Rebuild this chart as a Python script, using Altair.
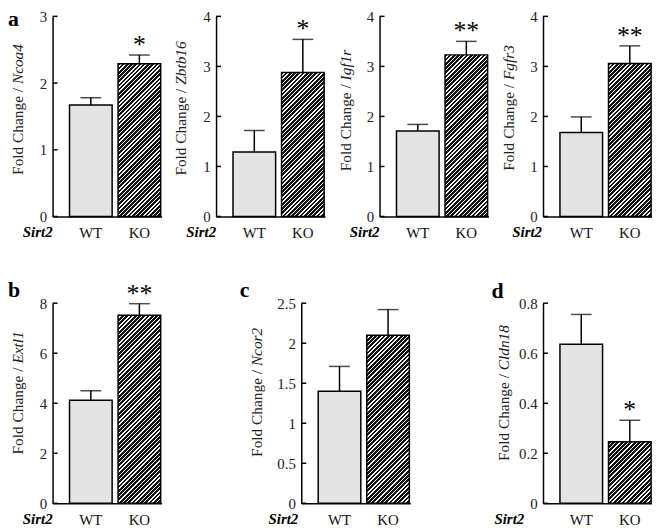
import altair as alt
import pandas as pd

# ---------------- data ----------------
genes = ["Ncoa4", "Zbtb16", "Igf1r", "Fgfr3", "Extl1", "Ncor2", "Cldn18"]
conditions = ["WT", "KO"]
wt_mean = [1.67, 1.29, 1.71, 1.68, 4.12, 1.40, 0.636]
wt_err_top = [1.78, 1.72, 1.84, 1.99, 4.50, 1.71, 0.755]
ko_mean = [2.29, 2.88, 3.23, 3.06, 7.52, 2.10, 0.246]
ko_err_top = [2.42, 3.54, 3.50, 3.41, 7.98, 2.42, 0.332]
ko_stars = ["*", "*", "**", "**", "**", "", "*"]
y_max = [3, 4, 4, 4, 8, 2.5, 0.8]
y_ticks = [
    [0, 1, 2, 3],
    [0, 1, 2, 3, 4],
    [0, 1, 2, 3, 4],
    [0, 1, 2, 3, 4],
    [0, 2, 4, 6, 8],
    [0, 0.5, 1, 1.5, 2, 2.5],
    [0, 0.2, 0.4, 0.6, 0.8],
]
panel_letters = ["a", "", "", "", "b", "c", "d"]
group_label = "Sirt2"
title_prefix = "Fold Change /"

# ---------------- style ----------------
FONT = "Liberation Serif"
W, H = 110, 202
BAND, GAP = 43, 6
STEP = BAND + GAP
PI = GAP / STEP
PO = (W / STEP - 2 + PI) / 2
WT_FILL = "#e4e4e4"
HATCH_DARK = "#111111"
HATCH_LIGHT = "#ffffff"
PERIOD = 4.3
DARK_FRAC = 0.64
TITLE_FS = 15.5
LABEL_FS = 15

# per-panel placement of annotations (relative to each plot area)
layout = [
    dict(tx=-30, tc=94, sx=0, lx=-45, ly=9.5),
    dict(tx=-30, tc=93, sx=0, lx=0, ly=0),
    dict(tx=-29, tc=95, sx=0, lx=0, ly=0),
    dict(tx=-29, tc=92.5, sx=-1, lx=0, ly=0),
    dict(tx=-30, tc=90.5, sx=0, lx=-45, ly=-6),
    dict(tx=-40, tc=90, sx=-3, lx=-62, ly=-6),
    dict(tx=-34, tc=92, sx=-19, lx=-52, ly=-5),
]

ROMAN = {"F": .556, "o": .5, "l": .278, "d": .5, " ": .25, "C": .667, "h": .5,
         "a": .444, "n": .5, "g": .5, "e": .444, "/": .278}
ITALIC = {"N": .667, "c": .444, "o": .5, "a": .5, "4": .5, "Z": .556, "b": .5,
          "t": .278, "1": .5, "6": .5, "I": .333, "g": .5, "f": .278, "r": .389,
          "F": .611, "3": .5, "E": .611, "x": .444, "l": .278, "2": .5, "d": .5,
          "n": .5, "8": .5}


def text_w(s, table):
    return sum(table.get(c, 0.5) for c in s) * TITLE_FS


def hatch(value, ymax):
    w = BAND
    h = max(value / ymax * H, 1)
    k = h / w
    dx = (1 + k) / (1 + k * k)
    dy = k * dx
    n = max(1, round((w + h) / PERIOD))
    stops = []
    for j in range(n):
        a = j / n
        b = (j + DARK_FRAC) / n
        c = (j + 1) / n
        stops += [
            alt.GradientStop(offset=a, color=HATCH_DARK),
            alt.GradientStop(offset=b, color=HATCH_DARK),
            alt.GradientStop(offset=b, color=HATCH_LIGHT),
            alt.GradientStop(offset=c, color=HATCH_LIGHT),
        ]
    return alt.LinearGradient(gradient="linear", stops=stops, x1=0, y1=0, x2=dx, y2=dy)


def const_text(txt, x, y, **kw):
    return alt.Chart(pd.DataFrame({"t": [txt]})).mark_text(font=FONT, **kw).encode(
        x=alt.value(x), y=alt.value(y), text="t:N")


def panel(i):
    lay = layout[i]
    df = pd.DataFrame({
        "cond": conditions,
        "mean": [wt_mean[i], ko_mean[i]],
        "top": [wt_err_top[i], ko_err_top[i]],
        "star": ["", ko_stars[i]],
    })
    xscale = alt.Scale(domain=conditions, paddingInner=PI, paddingOuter=PO, align=0.95)
    xaxis = alt.Axis(title=None, labelAngle=0, ticks=False, domainColor="black",
                     domainWidth=1.5, labelFont=FONT, labelFontSize=LABEL_FS,
                     labelColor="#111", labelPadding=9)
    yscale = alt.Scale(domain=[0, y_max[i]], nice=False, zero=True)
    yaxis = alt.Axis(title=None, values=y_ticks[i], ticks=False, grid=False,
                     domainColor="black", domainWidth=1.5, labelFont=FONT,
                     labelFontSize=LABEL_FS, labelColor="#222", labelPadding=6,
                     format="~g")
    X = alt.X("cond:N", scale=xscale, axis=xaxis)
    base = alt.Chart(df)

    wt = base.transform_filter(alt.datum.cond == "WT").mark_bar(
        fill=WT_FILL, stroke="black", strokeWidth=1.5).encode(
        x=X, y=alt.Y("mean:Q", scale=yscale, axis=yaxis))
    ko = base.transform_filter(alt.datum.cond == "KO").mark_bar(
        fill=hatch(ko_mean[i], y_max[i]), stroke="black", strokeWidth=1.5).encode(
        x=X, y=alt.Y("mean:Q", scale=yscale, axis=yaxis))
    err = base.mark_rule(color="black", strokeWidth=1.5).encode(
        x=X, y=alt.Y("mean:Q", scale=yscale, axis=yaxis), y2="top:Q")
    cap = base.mark_tick(color="black", orient="horizontal", size=21, thickness=1.5).encode(
        x=X, y=alt.Y("top:Q", scale=yscale, axis=yaxis))
    ticks = alt.Chart(pd.DataFrame({"v": y_ticks[i]})).mark_rule(
        color="black", strokeWidth=1.5).encode(
        y=alt.Y("v:Q", scale=yscale, axis=yaxis), x=alt.value(0), x2=alt.value(5))
    stars = base.transform_filter(alt.datum.star != "").mark_text(
        font=FONT, fontSize=26, baseline="alphabetic", dy=-2, color="black").encode(
        x=X, y=alt.Y("top:Q", scale=yscale, axis=yaxis), text="star:N")

    # y title: "Fold Change / " + italic gene name
    l1 = text_w(title_prefix, ROMAN)
    sp = 0.25 * TITLE_FS
    l2 = text_w(genes[i], ITALIC)
    bottom = lay["tc"] + (l1 + sp + l2) / 2
    split1 = bottom - l1
    split2 = split1 - sp
    t1 = const_text(title_prefix, lay["tx"], split1, angle=270, align="right",
                    baseline="alphabetic", fontSize=TITLE_FS, color="#222")
    t2 = const_text(genes[i], lay["tx"], split2, angle=270, align="left",
                    baseline="alphabetic", fontSize=TITLE_FS, fontStyle="italic",
                    color="#222")
    grp = const_text(group_label, lay["sx"], H + 21, align="right", baseline="alphabetic",
                     fontSize=15, fontWeight="bold", fontStyle="italic", color="black")
    layers = [wt, ko, err, cap, ticks, stars, t1, t2, grp]
    if panel_letters[i]:
        layers.append(const_text(panel_letters[i], lay["lx"], lay["ly"], align="left",
                                 baseline="alphabetic", fontSize=22, fontWeight="bold",
                                 color="black"))
    return alt.layer(*layers).properties(width=W, height=H)


row_a = alt.hconcat(panel(0), panel(1), panel(2), panel(3), spacing=55, bounds="flush")
row_b = alt.hconcat(
    panel(4),
    alt.hconcat(panel(5), panel(6), spacing=134, bounds="flush"),
    spacing=79)

chart = alt.vconcat(row_a, row_b, spacing=39.5).properties(
    padding={"left": 0, "top": -3, "right": 0, "bottom": 0},
    background="white",
).configure_view(stroke=None)

chart.save("out.html", embed_options={"renderer": "svg", "actions": False})
